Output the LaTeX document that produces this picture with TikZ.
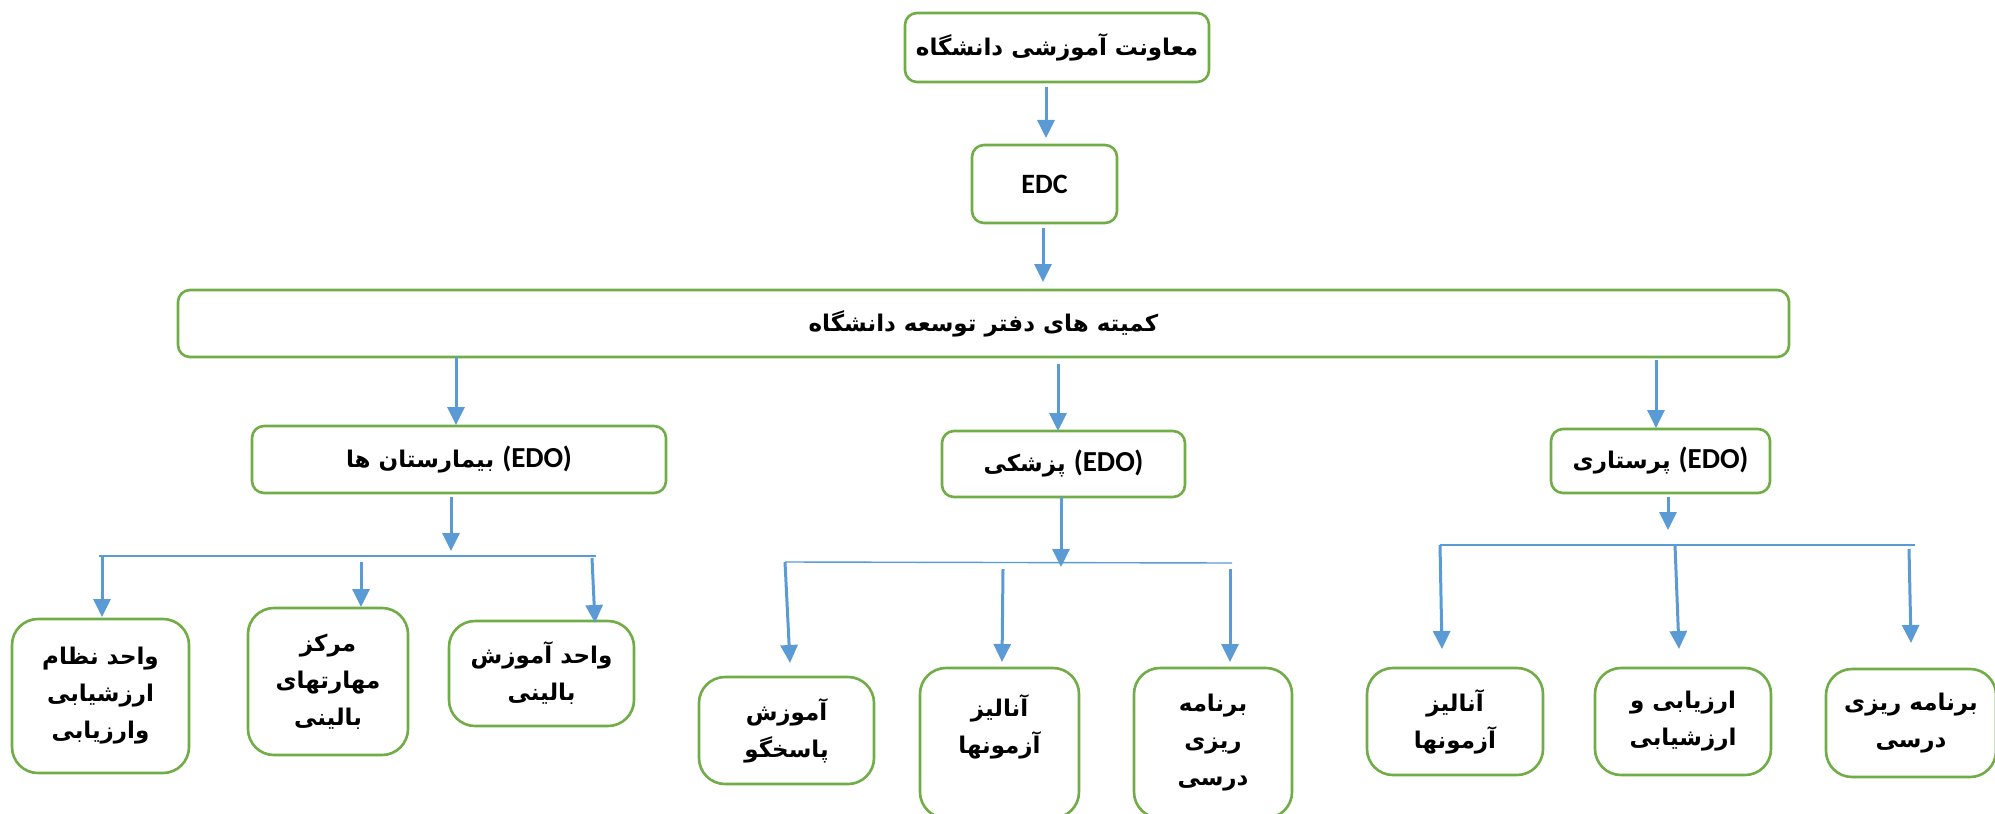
\documentclass[tikz,border=0pt]{standalone}
\usepackage{fontspec}
\setmainfont{Carlito}
\newfontfamily\fa[Script=Arabic]{DejaVu Sans}
\TeXXeTstate=1
\usetikzlibrary{arrows.meta}
\definecolor{boxgreen}{HTML}{70AD47}
\definecolor{linkblue}{HTML}{5B9BD5}
\newcommand\rl[1]{\beginR #1\endR}
\newcommand\edo{\beginL{\rmfamily\bfseries\fontsize{14.5}{16}\selectfont (EDO)}\endL{}}
\tikzset{
  box/.style={draw=boxgreen, line width=1.3pt, rounded corners=6pt, fill=white,
    align=center, inner sep=0pt, font=\fa\bfseries\fontsize{11.5}{18.5}\selectfont},
  cbox/.style={box, rounded corners=13pt},
  arr/.style={draw=linkblue, line width=1.5pt, -{Triangle[width=8.5pt,length=9pt]}},
  bus/.style={draw=linkblue, line width=0.7pt},
}
\begin{document}
\begin{tikzpicture}[x=0.5pt,y=-0.5pt]
\useasboundingbox (0,0) rectangle (1995,813);
% level boxes
\node[box, minimum width=152pt, minimum height=34.5pt] (top) at (1057,47.5) {\rl{معاونت آموزشی دانشگاه}};
\node[box, minimum width=72.5pt, minimum height=39pt, font=\rmfamily\bfseries\fontsize{14}{16}\selectfont] (edc) at (1044.5,184) {EDC};
\node[box, minimum width=805.5pt, minimum height=33.5pt] (big) at (983.5,323.5) {\rl{کمیته های دفتر توسعه دانشگاه}};
\node[box, minimum width=207pt, minimum height=33.5pt] (hosp) at (459,459.5) {\rl{\edo\ بیمارستان ها}};
\node[box, minimum width=121.5pt, minimum height=33pt] (pez) at (1063.5,464) {\rl{\edo\ پزشکی}};
\node[box, minimum width=109.5pt, minimum height=32pt] (par) at (1660.5,461) {\rl{\edo\ پرستاری}};
% child boxes
\node[cbox, minimum width=88.5pt, minimum height=77pt] (h1) at (100.5,696) {\rl{واحد نظام}\\\rl{ارزشیابی}\\\rl{وارزیابی}};
\node[cbox, minimum width=80pt, minimum height=73.5pt] (h2) at (328,681.5) {\rl{مرکز}\\\rl{مهارتهای}\\\rl{بالینی}};
\node[cbox, minimum width=92.5pt, minimum height=52.5pt] (h3) at (541.5,673.5) {\rl{واحد آموزش}\\\rl{بالینی}};
\node[cbox, minimum width=87.5pt, minimum height=53.5pt] (p1) at (786.5,730.5) {\rl{آموزش}\\\rl{پاسخگو}};
\node[cbox, minimum width=79.5pt, minimum height=75pt] (p2) at (999.5,743) {\rl{آنالیز}\\\rl{آزمونها}\\\mbox{}};
\node[cbox, minimum width=79pt, minimum height=75pt] (p3) at (1213,743) {\rl{برنامه}\\\rl{ریزی}\\\rl{درسی}};
\node[cbox, minimum width=88pt, minimum height=53.5pt] (n1) at (1455,721.5) {\rl{آنالیز}\\\rl{آزمونها}};
\node[cbox, minimum width=88pt, minimum height=53.5pt] (n2) at (1683,721.5) {\rl{ارزیابی و}\\\rl{ارزشیابی}};
\node[cbox, minimum width=85pt, minimum height=54pt] (n3) at (1911,723) {\rl{برنامه ریزی}\\\rl{درسی}};
% connector end points
\coordinate (a1s) at (1046,87);   \coordinate (a1e) at (1046,138);
\coordinate (a2s) at (1043,228);  \coordinate (a2e) at (1043,282);
\coordinate (a3s) at (456,357);   \coordinate (a3e) at (456,425);
\coordinate (a4s) at (1058,364);  \coordinate (a4e) at (1058,431);
\coordinate (a5s) at (1656,360);  \coordinate (a5e) at (1656,428);
% hospital branch
\coordinate (hbs) at (451,497);   \coordinate (hbe) at (451,551);
\coordinate (hl) at (99,556);     \coordinate (hr) at (596,556);
\coordinate (h1s) at (102,556);   \coordinate (h1e) at (102,617);
\coordinate (h2s) at (361,562);   \coordinate (h2e) at (361,607);
\coordinate (h3s) at (592,558);   \coordinate (h3e) at (595,623);
% medicine branch
\coordinate (pbs) at (1061,497);  \coordinate (pbe) at (1061,567);
\coordinate (pl) at (785,562);    \coordinate (pr) at (1232,563);
\coordinate (p1s) at (785,562);   \coordinate (p1e) at (790,663);
\coordinate (p2s) at (1003,569);  \coordinate (p2e) at (1002,662);
\coordinate (p3s) at (1230,569);  \coordinate (p3e) at (1230,662);
% nursing branch
\coordinate (nbs) at (1668,497);  \coordinate (nbe) at (1668,530);
\coordinate (nl) at (1440,545);   \coordinate (nr) at (1915,545);
\coordinate (n1s) at (1440,545);  \coordinate (n1e) at (1442,649);
\coordinate (n2s) at (1675,545);  \coordinate (n2e) at (1679,649);
\coordinate (n3s) at (1909,549);  \coordinate (n3e) at (1911,643);
% connectors
\draw[arr] (a1s) -- (a1e);
\draw[arr] (a2s) -- (a2e);
\draw[arr] (a3s) -- (a3e);
\draw[arr] (a4s) -- (a4e);
\draw[arr] (a5s) -- (a5e);
\draw[bus] (hl) -- (hr);
\draw[bus] (pl) -- (pr);
\draw[bus] (nl) -- (nr);
\draw[arr] (hbs) -- (hbe);
\draw[arr] (h1s) -- (h1e);
\draw[arr] (h2s) -- (h2e);
\draw[arr] (h3s) -- (h3e);
\draw[arr] (pbs) -- (pbe);
\draw[arr] (p1s) -- (p1e);
\draw[arr] (p2s) -- (p2e);
\draw[arr] (p3s) -- (p3e);
\draw[arr] (nbs) -- (nbe);
\draw[arr] (n1s) -- (n1e);
\draw[arr] (n2s) -- (n2e);
\draw[arr] (n3s) -- (n3e);
\end{tikzpicture}
\end{document}
